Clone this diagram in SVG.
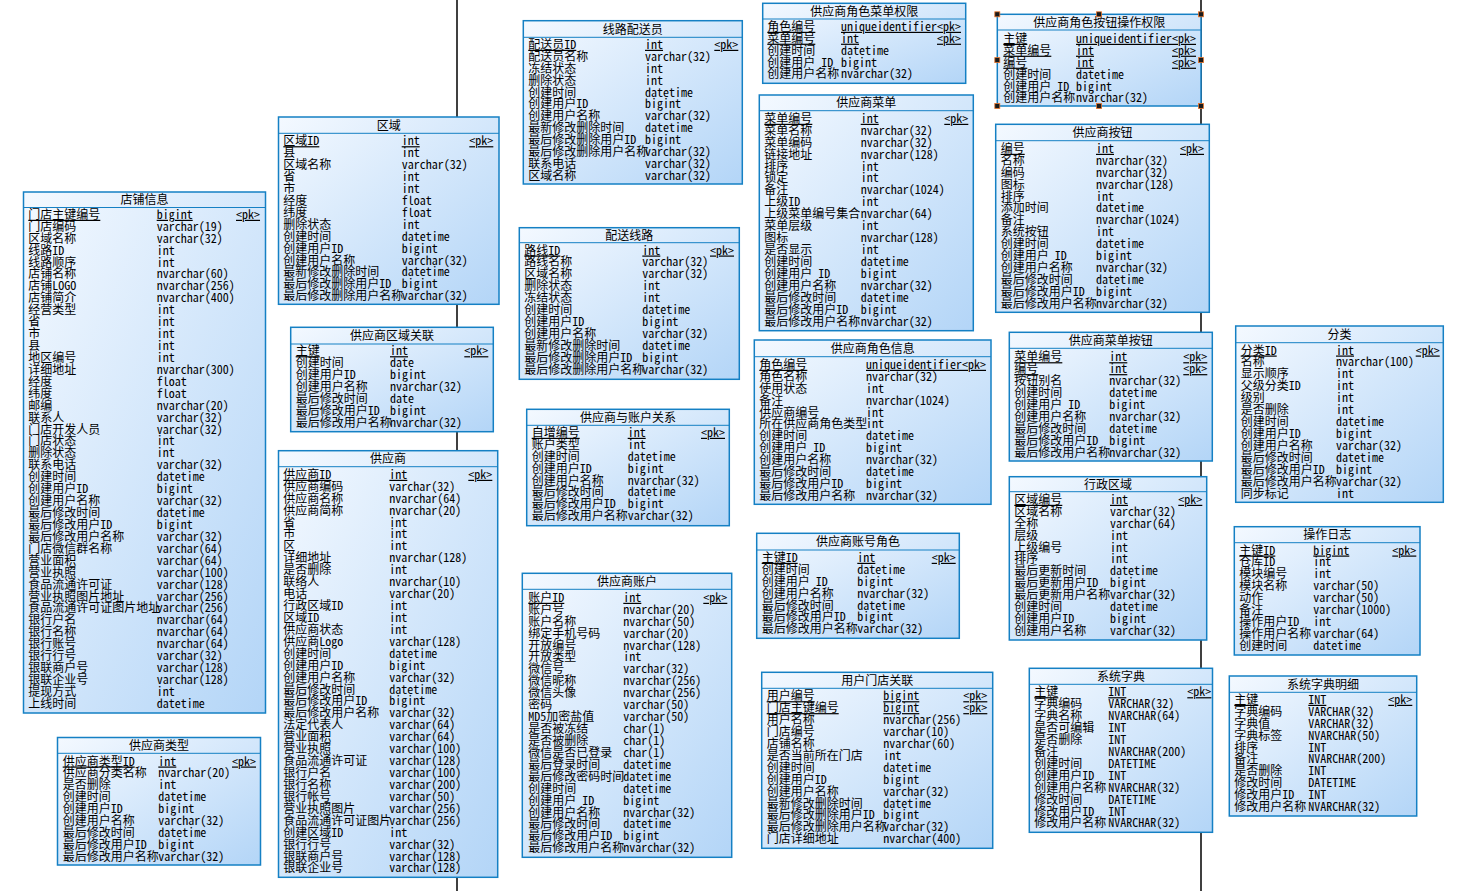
<svg xmlns="http://www.w3.org/2000/svg" width="1478" height="891" viewBox="0 0 1478 891">
<defs>
<linearGradient id="g" x1="0" y1="0" x2="1" y2="1">
<stop offset="0" stop-color="#f4f9ff"/>
<stop offset="1" stop-color="#b3d5f7"/>
</linearGradient>
<style>
.box{fill:url(#g);stroke:#1580c4;stroke-width:1.5}
.sep{stroke:#1580c4;stroke-width:1}
.ln{stroke:#000;stroke-width:1.5}
.h{fill:#1a1a1a;stroke:#e8742a;stroke-width:0.8}
text{font-family:"Noto Sans Mono CJK SC","Noto Sans CJK SC",sans-serif;font-size:12px;fill:#000}
.ttl{text-anchor:middle}
.u{text-decoration:underline}
</style>
</defs>
<rect width="1478" height="891" fill="#fff"/>
<g id="connectors">
<line class="ln" x1="457" y1="0" x2="457" y2="891"/>
<line class="ln" x1="1201" y1="0" x2="1201" y2="891"/>
</g>

<g id="t1">
<rect class="box" x="23.5" y="192" width="242" height="521"/>
<line class="sep" x1="23.5" y1="207.5" x2="265.5" y2="207.5"/>
<text class="ttl" x="144.5" y="204.3">店铺信息</text>
<text class="u" x="28.3" y="218.8">门店主键编号</text><text class="u" x="156.7" y="218.8">bigint</text><text class="u" x="236" y="218.8">&lt;pk&gt;</text>
<text x="28.3" y="218.8"><tspan x="28.3" dy="11.93">门店编码</tspan><tspan x="28.3" dy="11.93">区域名称</tspan><tspan x="28.3" dy="11.93">线路ID</tspan><tspan x="28.3" dy="11.93">线路顺序</tspan><tspan x="28.3" dy="11.93">店铺名称</tspan><tspan x="28.3" dy="11.93">店铺LOGO</tspan><tspan x="28.3" dy="11.93">店铺简介</tspan><tspan x="28.3" dy="11.93">经营类型</tspan><tspan x="28.3" dy="11.93">省</tspan><tspan x="28.3" dy="11.93">市</tspan><tspan x="28.3" dy="11.93">县</tspan><tspan x="28.3" dy="11.93">地区编号</tspan><tspan x="28.3" dy="11.93">详细地址</tspan><tspan x="28.3" dy="11.93">经度</tspan><tspan x="28.3" dy="11.93">纬度</tspan><tspan x="28.3" dy="11.93">邮编</tspan><tspan x="28.3" dy="11.93">联系人</tspan><tspan x="28.3" dy="11.93">门店开发人员</tspan><tspan x="28.3" dy="11.93">门店状态</tspan><tspan x="28.3" dy="11.93">删除状态</tspan><tspan x="28.3" dy="11.93">联系电话</tspan><tspan x="28.3" dy="11.93">创建时间</tspan><tspan x="28.3" dy="11.93">创建用户ID</tspan><tspan x="28.3" dy="11.93">创建用户名称</tspan><tspan x="28.3" dy="11.93">最后修改时间</tspan><tspan x="28.3" dy="11.93">最后修改用户ID</tspan><tspan x="28.3" dy="11.93">最后修改用户名称</tspan><tspan x="28.3" dy="11.93">门店微信群名称</tspan><tspan x="28.3" dy="11.93">营业面积</tspan><tspan x="28.3" dy="11.93">营业执照</tspan><tspan x="28.3" dy="11.93">食品流通许可证</tspan><tspan x="28.3" dy="11.93">营业执照图片地址</tspan><tspan x="28.3" dy="11.93">食品流通许可证图片地址</tspan><tspan x="28.3" dy="11.93">银行户名</tspan><tspan x="28.3" dy="11.93">银行名称</tspan><tspan x="28.3" dy="11.93">银行账号</tspan><tspan x="28.3" dy="11.93">银行行号</tspan><tspan x="28.3" dy="11.93">银联商户号</tspan><tspan x="28.3" dy="11.93">银联企业号</tspan><tspan x="28.3" dy="11.93">提现方式</tspan><tspan x="28.3" dy="11.93">上线时间</tspan></text>
<text x="156.7" y="218.8"><tspan x="156.7" dy="11.93">varchar(19)</tspan><tspan x="156.7" dy="11.93">varchar(32)</tspan><tspan x="156.7" dy="11.93">int</tspan><tspan x="156.7" dy="11.93">int</tspan><tspan x="156.7" dy="11.93">nvarchar(60)</tspan><tspan x="156.7" dy="11.93">nvarchar(256)</tspan><tspan x="156.7" dy="11.93">nvarchar(400)</tspan><tspan x="156.7" dy="11.93">int</tspan><tspan x="156.7" dy="11.93">int</tspan><tspan x="156.7" dy="11.93">int</tspan><tspan x="156.7" dy="11.93">int</tspan><tspan x="156.7" dy="11.93">int</tspan><tspan x="156.7" dy="11.93">nvarchar(300)</tspan><tspan x="156.7" dy="11.93">float</tspan><tspan x="156.7" dy="11.93">float</tspan><tspan x="156.7" dy="11.93">nvarchar(20)</tspan><tspan x="156.7" dy="11.93">varchar(32)</tspan><tspan x="156.7" dy="11.93">varchar(32)</tspan><tspan x="156.7" dy="11.93">int</tspan><tspan x="156.7" dy="11.93">int</tspan><tspan x="156.7" dy="11.93">varchar(32)</tspan><tspan x="156.7" dy="11.93">datetime</tspan><tspan x="156.7" dy="11.93">bigint</tspan><tspan x="156.7" dy="11.93">varchar(32)</tspan><tspan x="156.7" dy="11.93">datetime</tspan><tspan x="156.7" dy="11.93">bigint</tspan><tspan x="156.7" dy="11.93">varchar(32)</tspan><tspan x="156.7" dy="11.93">varchar(64)</tspan><tspan x="156.7" dy="11.93">varchar(64)</tspan><tspan x="156.7" dy="11.93">varchar(100)</tspan><tspan x="156.7" dy="11.93">varchar(128)</tspan><tspan x="156.7" dy="11.93">varchar(256)</tspan><tspan x="156.7" dy="11.93">varchar(256)</tspan><tspan x="156.7" dy="11.93">nvarchar(64)</tspan><tspan x="156.7" dy="11.93">nvarchar(64)</tspan><tspan x="156.7" dy="11.93">nvarchar(64)</tspan><tspan x="156.7" dy="11.93">varchar(32)</tspan><tspan x="156.7" dy="11.93">varchar(128)</tspan><tspan x="156.7" dy="11.93">varchar(128)</tspan><tspan x="156.7" dy="11.93">int</tspan><tspan x="156.7" dy="11.93">datetime</tspan></text>
</g>

<g id="t2">
<rect class="box" x="57.5" y="737.5" width="203" height="127.5"/>
<line class="sep" x1="57.5" y1="753.3" x2="260.5" y2="753.3"/>
<text class="ttl" x="159" y="749.9">供应商类型</text>
<text class="u" x="62.7" y="765.5">供应商类型ID</text><text class="u" x="158.3" y="765.5">int</text><text class="u" x="232" y="765.5">&lt;pk&gt;</text>
<text x="62.7" y="765.5"><tspan x="62.7" dy="11.93">供应商分类名称</tspan><tspan x="62.7" dy="11.93">是否删除</tspan><tspan x="62.7" dy="11.93">创建时间</tspan><tspan x="62.7" dy="11.93">创建用户ID</tspan><tspan x="62.7" dy="11.93">创建用户名称</tspan><tspan x="62.7" dy="11.93">最后修改时间</tspan><tspan x="62.7" dy="11.93">最后修改用户ID</tspan><tspan x="62.7" dy="11.93">最后修改用户名称</tspan></text>
<text x="158.3" y="765.5"><tspan x="158.3" dy="11.93">nvarchar(20)</tspan><tspan x="158.3" dy="11.93">int</tspan><tspan x="158.3" dy="11.93">datetime</tspan><tspan x="158.3" dy="11.93">bigint</tspan><tspan x="158.3" dy="11.93">varchar(32)</tspan><tspan x="158.3" dy="11.93">datetime</tspan><tspan x="158.3" dy="11.93">bigint</tspan><tspan x="158.3" dy="11.93">varchar(32)</tspan></text>
</g>

<g id="t3">
<rect class="box" x="278.5" y="117" width="220.5" height="187.3"/>
<line class="sep" x1="278.5" y1="133.3" x2="499" y2="133.3"/>
<text class="ttl" x="388.7" y="129.7">区域</text>
<text class="u" x="283.3" y="145.2">区域ID</text><text class="u" x="401.7" y="145.2">int</text><text class="u" x="469.3" y="145.2">&lt;pk&gt;</text>
<text x="283.3" y="145.2"><tspan x="283.3" dy="11.93">县</tspan><tspan x="283.3" dy="11.93">区域名称</tspan><tspan x="283.3" dy="11.93">省</tspan><tspan x="283.3" dy="11.93">市</tspan><tspan x="283.3" dy="11.93">经度</tspan><tspan x="283.3" dy="11.93">纬度</tspan><tspan x="283.3" dy="11.93">删除状态</tspan><tspan x="283.3" dy="11.93">创建时间</tspan><tspan x="283.3" dy="11.93">创建用户ID</tspan><tspan x="283.3" dy="11.93">创建用户名称</tspan><tspan x="283.3" dy="11.93">最新修改删除时间</tspan><tspan x="283.3" dy="11.93">最后修改删除用户ID</tspan><tspan x="283.3" dy="11.93">最后修改删除用户名称</tspan></text>
<text x="401.7" y="145.2"><tspan x="401.7" dy="11.93">int</tspan><tspan x="401.7" dy="11.93">varchar(32)</tspan><tspan x="401.7" dy="11.93">int</tspan><tspan x="401.7" dy="11.93">int</tspan><tspan x="401.7" dy="11.93">float</tspan><tspan x="401.7" dy="11.93">float</tspan><tspan x="401.7" dy="11.93">int</tspan><tspan x="401.7" dy="11.93">datetime</tspan><tspan x="401.7" dy="11.93">bigint</tspan><tspan x="401.7" dy="11.93">varchar(32)</tspan><tspan x="401.7" dy="11.93">datetime</tspan><tspan x="401.7" dy="11.93">bigint</tspan><tspan x="401.7" dy="11.93">varchar(32)</tspan></text>
</g>

<g id="t4">
<rect class="box" x="290.7" y="327.3" width="202.6" height="104.4"/>
<line class="sep" x1="290.7" y1="344" x2="493.3" y2="344"/>
<text class="ttl" x="392" y="340.2">供应商区域关联</text>
<text class="u" x="295.7" y="355.2">主键</text><text class="u" x="390" y="355.2">int</text><text class="u" x="464.3" y="355.2">&lt;pk&gt;</text>
<text x="295.7" y="355.2"><tspan x="295.7" dy="11.93">创建时间</tspan><tspan x="295.7" dy="11.93">创建用户ID</tspan><tspan x="295.7" dy="11.93">创建用户名称</tspan><tspan x="295.7" dy="11.93">最后修改时间</tspan><tspan x="295.7" dy="11.93">最后修改用户ID</tspan><tspan x="295.7" dy="11.93">最后修改用户名称</tspan></text>
<text x="390" y="355.2"><tspan x="390" dy="11.93">date</tspan><tspan x="390" dy="11.93">bigint</tspan><tspan x="390" dy="11.93">nvarchar(32)</tspan><tspan x="390" dy="11.93">date</tspan><tspan x="390" dy="11.93">bigint</tspan><tspan x="390" dy="11.93">nvarchar(32)</tspan></text>
</g>

<g id="t5">
<rect class="box" x="278.5" y="450.7" width="219.2" height="426.6"/>
<line class="sep" x1="278.5" y1="466.7" x2="497.7" y2="466.7"/>
<text class="ttl" x="388.1" y="463.2">供应商</text>
<text class="u" x="283.3" y="478.8">供应商ID</text><text class="u" x="389.3" y="478.8">int</text><text class="u" x="468.3" y="478.8">&lt;pk&gt;</text>
<text x="283.3" y="478.8"><tspan x="283.3" dy="11.93">供应商编码</tspan><tspan x="283.3" dy="11.93">供应商名称</tspan><tspan x="283.3" dy="11.93">供应商简称</tspan><tspan x="283.3" dy="11.93">省</tspan><tspan x="283.3" dy="11.93">市</tspan><tspan x="283.3" dy="11.93">区</tspan><tspan x="283.3" dy="11.93">详细地址</tspan><tspan x="283.3" dy="11.93">是否删除</tspan><tspan x="283.3" dy="11.93">联络人</tspan><tspan x="283.3" dy="11.93">电话</tspan><tspan x="283.3" dy="11.93">行政区域ID</tspan><tspan x="283.3" dy="11.93">区域ID</tspan><tspan x="283.3" dy="11.93">供应商状态</tspan><tspan x="283.3" dy="11.93">供应商Logo</tspan><tspan x="283.3" dy="11.93">创建时间</tspan><tspan x="283.3" dy="11.93">创建用户ID</tspan><tspan x="283.3" dy="11.93">创建用户名称</tspan><tspan x="283.3" dy="11.93">最后修改时间</tspan><tspan x="283.3" dy="11.93">最后修改用户ID</tspan><tspan x="283.3" dy="11.93">最后修改用户名称</tspan><tspan x="283.3" dy="11.93">法定代表人</tspan><tspan x="283.3" dy="11.93">营业面积</tspan><tspan x="283.3" dy="11.93">营业执照</tspan><tspan x="283.3" dy="11.93">食品流通许可证</tspan><tspan x="283.3" dy="11.93">银行户名</tspan><tspan x="283.3" dy="11.93">银行名称</tspan><tspan x="283.3" dy="11.93">银行帐号</tspan><tspan x="283.3" dy="11.93">营业执照图片</tspan><tspan x="283.3" dy="11.93">食品流通许可证图片</tspan><tspan x="283.3" dy="11.93">创建区域ID</tspan><tspan x="283.3" dy="11.93">银行行号</tspan><tspan x="283.3" dy="11.93">银联商户号</tspan><tspan x="283.3" dy="11.93">银联企业号</tspan></text>
<text x="389.3" y="478.8"><tspan x="389.3" dy="11.93">varchar(32)</tspan><tspan x="389.3" dy="11.93">nvarchar(64)</tspan><tspan x="389.3" dy="11.93">nvarchar(20)</tspan><tspan x="389.3" dy="11.93">int</tspan><tspan x="389.3" dy="11.93">int</tspan><tspan x="389.3" dy="11.93">int</tspan><tspan x="389.3" dy="11.93">nvarchar(128)</tspan><tspan x="389.3" dy="11.93">int</tspan><tspan x="389.3" dy="11.93">nvarchar(10)</tspan><tspan x="389.3" dy="11.93">varchar(20)</tspan><tspan x="389.3" dy="11.93">int</tspan><tspan x="389.3" dy="11.93">int</tspan><tspan x="389.3" dy="11.93">int</tspan><tspan x="389.3" dy="11.93">varchar(128)</tspan><tspan x="389.3" dy="11.93">datetime</tspan><tspan x="389.3" dy="11.93">bigint</tspan><tspan x="389.3" dy="11.93">varchar(32)</tspan><tspan x="389.3" dy="11.93">datetime</tspan><tspan x="389.3" dy="11.93">bigint</tspan><tspan x="389.3" dy="11.93">varchar(32)</tspan><tspan x="389.3" dy="11.93">varchar(64)</tspan><tspan x="389.3" dy="11.93">varchar(64)</tspan><tspan x="389.3" dy="11.93">varchar(100)</tspan><tspan x="389.3" dy="11.93">varchar(128)</tspan><tspan x="389.3" dy="11.93">varchar(100)</tspan><tspan x="389.3" dy="11.93">varchar(200)</tspan><tspan x="389.3" dy="11.93">varchar(50)</tspan><tspan x="389.3" dy="11.93">varchar(256)</tspan><tspan x="389.3" dy="11.93">varchar(256)</tspan><tspan x="389.3" dy="11.93">int</tspan><tspan x="389.3" dy="11.93">varchar(32)</tspan><tspan x="389.3" dy="11.93">varchar(128)</tspan><tspan x="389.3" dy="11.93">varchar(128)</tspan></text>
</g>

<g id="t6">
<rect class="box" x="523.3" y="20.7" width="219" height="163.3"/>
<line class="sep" x1="523.3" y1="37.3" x2="742.3" y2="37.3"/>
<text class="ttl" x="632.8" y="33.5">线路配送员</text>
<text class="u" x="528.3" y="48.8">配送员ID</text><text class="u" x="645" y="48.8">int</text><text class="u" x="714.3" y="48.8">&lt;pk&gt;</text>
<text x="528.3" y="48.8"><tspan x="528.3" dy="11.93">配送员名称</tspan><tspan x="528.3" dy="11.93">冻结状态</tspan><tspan x="528.3" dy="11.93">删除状态</tspan><tspan x="528.3" dy="11.93">创建时间</tspan><tspan x="528.3" dy="11.93">创建用户ID</tspan><tspan x="528.3" dy="11.93">创建用户名称</tspan><tspan x="528.3" dy="11.93">最新修改删除时间</tspan><tspan x="528.3" dy="11.93">最后修改删除用户ID</tspan><tspan x="528.3" dy="11.93">最后修改删除用户名称</tspan><tspan x="528.3" dy="11.93">联系电话</tspan><tspan x="528.3" dy="11.93">区域名称</tspan></text>
<text x="645" y="48.8"><tspan x="645" dy="11.93">varchar(32)</tspan><tspan x="645" dy="11.93">int</tspan><tspan x="645" dy="11.93">int</tspan><tspan x="645" dy="11.93">datetime</tspan><tspan x="645" dy="11.93">bigint</tspan><tspan x="645" dy="11.93">varchar(32)</tspan><tspan x="645" dy="11.93">datetime</tspan><tspan x="645" dy="11.93">bigint</tspan><tspan x="645" dy="11.93">varchar(32)</tspan><tspan x="645" dy="11.93">varchar(32)</tspan><tspan x="645" dy="11.93">varchar(32)</tspan></text>
</g>

<g id="t7">
<rect class="box" x="519.3" y="227.7" width="220" height="151.6"/>
<line class="sep" x1="519.3" y1="242.7" x2="739.3" y2="242.7"/>
<text class="ttl" x="629.3" y="239.7">配送线路</text>
<text class="u" x="524.3" y="254.5">路线ID</text><text class="u" x="642.3" y="254.5">int</text><text class="u" x="710" y="254.5">&lt;pk&gt;</text>
<text x="524.3" y="254.5"><tspan x="524.3" dy="11.93">路线名称</tspan><tspan x="524.3" dy="11.93">区域名称</tspan><tspan x="524.3" dy="11.93">删除状态</tspan><tspan x="524.3" dy="11.93">冻结状态</tspan><tspan x="524.3" dy="11.93">创建时间</tspan><tspan x="524.3" dy="11.93">创建用户ID</tspan><tspan x="524.3" dy="11.93">创建用户名称</tspan><tspan x="524.3" dy="11.93">最新修改删除时间</tspan><tspan x="524.3" dy="11.93">最后修改删除用户ID</tspan><tspan x="524.3" dy="11.93">最后修改删除用户名称</tspan></text>
<text x="642.3" y="254.5"><tspan x="642.3" dy="11.93">varchar(32)</tspan><tspan x="642.3" dy="11.93">varchar(32)</tspan><tspan x="642.3" dy="11.93">int</tspan><tspan x="642.3" dy="11.93">int</tspan><tspan x="642.3" dy="11.93">datetime</tspan><tspan x="642.3" dy="11.93">bigint</tspan><tspan x="642.3" dy="11.93">varchar(32)</tspan><tspan x="642.3" dy="11.93">datetime</tspan><tspan x="642.3" dy="11.93">bigint</tspan><tspan x="642.3" dy="11.93">varchar(32)</tspan></text>
</g>

<g id="t8">
<rect class="box" x="526.7" y="409.3" width="202.6" height="116.4"/>
<line class="sep" x1="526.7" y1="425.3" x2="729.3" y2="425.3"/>
<text class="ttl" x="628" y="421.8">供应商与账户关系</text>
<text class="u" x="531.7" y="436.8">自增编号</text><text class="u" x="627.7" y="436.8">int</text><text class="u" x="701" y="436.8">&lt;pk&gt;</text>
<text x="531.7" y="436.8"><tspan x="531.7" dy="11.93">账户类型</tspan><tspan x="531.7" dy="11.93">创建时间</tspan><tspan x="531.7" dy="11.93">创建用户ID</tspan><tspan x="531.7" dy="11.93">创建用户名称</tspan><tspan x="531.7" dy="11.93">最后修改时间</tspan><tspan x="531.7" dy="11.93">最后修改用户ID</tspan><tspan x="531.7" dy="11.93">最后修改用户名称</tspan></text>
<text x="627.7" y="436.8"><tspan x="627.7" dy="11.93">int</tspan><tspan x="627.7" dy="11.93">datetime</tspan><tspan x="627.7" dy="11.93">bigint</tspan><tspan x="627.7" dy="11.93">nvarchar(32)</tspan><tspan x="627.7" dy="11.93">datetime</tspan><tspan x="627.7" dy="11.93">bigint</tspan><tspan x="627.7" dy="11.93">varchar(32)</tspan></text>
</g>

<g id="t9">
<rect class="box" x="522.3" y="573.3" width="209.4" height="284"/>
<line class="sep" x1="522.3" y1="589.3" x2="731.7" y2="589.3"/>
<text class="ttl" x="627" y="585.8">供应商账户</text>
<text class="u" x="528.3" y="601.8">账户ID</text><text class="u" x="623.3" y="601.8">int</text><text class="u" x="703.3" y="601.8">&lt;pk&gt;</text>
<text x="528.3" y="601.8"><tspan x="528.3" dy="11.93">账户号</tspan><tspan x="528.3" dy="11.93">账户名称</tspan><tspan x="528.3" dy="11.93">绑定手机号码</tspan><tspan x="528.3" dy="11.93">开放编号</tspan><tspan x="528.3" dy="11.93">开放类型</tspan><tspan x="528.3" dy="11.93">微信号</tspan><tspan x="528.3" dy="11.93">微信昵称</tspan><tspan x="528.3" dy="11.93">微信头像</tspan><tspan x="528.3" dy="11.93">密码</tspan><tspan x="528.3" dy="11.93">MD5加密盐值</tspan><tspan x="528.3" dy="11.93">是否被冻结</tspan><tspan x="528.3" dy="11.93">是否被删除</tspan><tspan x="528.3" dy="11.93">微信是否已登录</tspan><tspan x="528.3" dy="11.93">最后登录时间</tspan><tspan x="528.3" dy="11.93">最后修改密码时间</tspan><tspan x="528.3" dy="11.93">创建时间</tspan><tspan x="528.3" dy="11.93">创建用户 ID</tspan><tspan x="528.3" dy="11.93">创建用户名称</tspan><tspan x="528.3" dy="11.93">最后修改时间</tspan><tspan x="528.3" dy="11.93">最后修改用户ID</tspan><tspan x="528.3" dy="11.93">最后修改用户名称</tspan></text>
<text x="623.3" y="601.8"><tspan x="623.3" dy="11.93">nvarchar(20)</tspan><tspan x="623.3" dy="11.93">nvarchar(50)</tspan><tspan x="623.3" dy="11.93">varchar(20)</tspan><tspan x="623.3" dy="11.93">nvarchar(128)</tspan><tspan x="623.3" dy="11.93">int</tspan><tspan x="623.3" dy="11.93">varchar(32)</tspan><tspan x="623.3" dy="11.93">nvarchar(256)</tspan><tspan x="623.3" dy="11.93">nvarchar(256)</tspan><tspan x="623.3" dy="11.93">varchar(50)</tspan><tspan x="623.3" dy="11.93">varchar(50)</tspan><tspan x="623.3" dy="11.93">char(1)</tspan><tspan x="623.3" dy="11.93">char(1)</tspan><tspan x="623.3" dy="11.93">char(1)</tspan><tspan x="623.3" dy="11.93">datetime</tspan><tspan x="623.3" dy="11.93">datetime</tspan><tspan x="623.3" dy="11.93">datetime</tspan><tspan x="623.3" dy="11.93">bigint</tspan><tspan x="623.3" dy="11.93">nvarchar(32)</tspan><tspan x="623.3" dy="11.93">datetime</tspan><tspan x="623.3" dy="11.93">bigint</tspan><tspan x="623.3" dy="11.93">nvarchar(32)</tspan></text>
</g>

<g id="t10">
<rect class="box" x="762.7" y="3.3" width="203" height="80"/>
<line class="sep" x1="762.7" y1="19" x2="965.7" y2="19"/>
<text class="ttl" x="864.2" y="15.7">供应商角色菜单权限</text>
<text class="u" x="767.3" y="30.8">角色编号</text><text class="u" x="841" y="30.8">uniqueidentifier</text><text class="u" x="937" y="30.8">&lt;pk&gt;</text>
<text class="u" x="767.3" y="42.7">菜单编号</text><text class="u" x="841" y="42.7">int</text><text class="u" x="937" y="42.7">&lt;pk&gt;</text>
<text x="767.3" y="42.7"><tspan x="767.3" dy="11.93">创建时间</tspan><tspan x="767.3" dy="11.93">创建用户 ID</tspan><tspan x="767.3" dy="11.93">创建用户名称</tspan></text>
<text x="841" y="42.7"><tspan x="841" dy="11.93">datetime</tspan><tspan x="841" dy="11.93">bigint</tspan><tspan x="841" dy="11.93">nvarchar(32)</tspan></text>
</g>

<g id="t11">
<rect class="box" x="759.3" y="95" width="214" height="235.7"/>
<line class="sep" x1="759.3" y1="110.7" x2="973.3" y2="110.7"/>
<text class="ttl" x="866.3" y="107.4">供应商菜单</text>
<text class="u" x="764.3" y="122.8">菜单编号</text><text class="u" x="860.7" y="122.8">int</text><text class="u" x="944.3" y="122.8">&lt;pk&gt;</text>
<text x="764.3" y="122.8"><tspan x="764.3" dy="11.93">菜单名称</tspan><tspan x="764.3" dy="11.93">菜单编码</tspan><tspan x="764.3" dy="11.93">链接地址</tspan><tspan x="764.3" dy="11.93">排序</tspan><tspan x="764.3" dy="11.93">锁定</tspan><tspan x="764.3" dy="11.93">备注</tspan><tspan x="764.3" dy="11.93">上级ID</tspan><tspan x="764.3" dy="11.93">上级菜单编号集合</tspan><tspan x="764.3" dy="11.93">菜单层级</tspan><tspan x="764.3" dy="11.93">图标</tspan><tspan x="764.3" dy="11.93">是否显示</tspan><tspan x="764.3" dy="11.93">创建时间</tspan><tspan x="764.3" dy="11.93">创建用户 ID</tspan><tspan x="764.3" dy="11.93">创建用户名称</tspan><tspan x="764.3" dy="11.93">最后修改时间</tspan><tspan x="764.3" dy="11.93">最后修改用户ID</tspan><tspan x="764.3" dy="11.93">最后修改用户名称</tspan></text>
<text x="860.7" y="122.8"><tspan x="860.7" dy="11.93">nvarchar(32)</tspan><tspan x="860.7" dy="11.93">nvarchar(32)</tspan><tspan x="860.7" dy="11.93">nvarchar(128)</tspan><tspan x="860.7" dy="11.93">int</tspan><tspan x="860.7" dy="11.93">int</tspan><tspan x="860.7" dy="11.93">nvarchar(1024)</tspan><tspan x="860.7" dy="11.93">int</tspan><tspan x="860.7" dy="11.93">nvarchar(64)</tspan><tspan x="860.7" dy="11.93">int</tspan><tspan x="860.7" dy="11.93">nvarchar(128)</tspan><tspan x="860.7" dy="11.93">int</tspan><tspan x="860.7" dy="11.93">datetime</tspan><tspan x="860.7" dy="11.93">bigint</tspan><tspan x="860.7" dy="11.93">nvarchar(32)</tspan><tspan x="860.7" dy="11.93">datetime</tspan><tspan x="860.7" dy="11.93">bigint</tspan><tspan x="860.7" dy="11.93">nvarchar(32)</tspan></text>
</g>

<g id="t12">
<rect class="box" x="754.3" y="340" width="236.7" height="164.3"/>
<line class="sep" x1="754.3" y1="356.7" x2="991" y2="356.7"/>
<text class="ttl" x="872.7" y="352.9">供应商角色信息</text>
<text class="u" x="759.3" y="368.8">角色编号</text><text class="u" x="866" y="368.8">uniqueidentifier</text><text class="u" x="962" y="368.8">&lt;pk&gt;</text>
<text x="759.3" y="368.8"><tspan x="759.3" dy="11.93">角色名称</tspan><tspan x="759.3" dy="11.93">使用状态</tspan><tspan x="759.3" dy="11.93">备注</tspan><tspan x="759.3" dy="11.93">供应商编号</tspan><tspan x="759.3" dy="11.93">所在供应商角色类型</tspan><tspan x="759.3" dy="11.93">创建时间</tspan><tspan x="759.3" dy="11.93">创建用户 ID</tspan><tspan x="759.3" dy="11.93">创建用户名称</tspan><tspan x="759.3" dy="11.93">最后修改时间</tspan><tspan x="759.3" dy="11.93">最后修改用户ID</tspan><tspan x="759.3" dy="11.93">最后修改用户名称</tspan></text>
<text x="866" y="368.8"><tspan x="866" dy="11.93">nvarchar(32)</tspan><tspan x="866" dy="11.93">int</tspan><tspan x="866" dy="11.93">nvarchar(1024)</tspan><tspan x="866" dy="11.93">int</tspan><tspan x="866" dy="11.93">int</tspan><tspan x="866" dy="11.93">datetime</tspan><tspan x="866" dy="11.93">bigint</tspan><tspan x="866" dy="11.93">nvarchar(32)</tspan><tspan x="866" dy="11.93">datetime</tspan><tspan x="866" dy="11.93">bigint</tspan><tspan x="866" dy="11.93">nvarchar(32)</tspan></text>
</g>

<g id="t13">
<rect class="box" x="756.7" y="533.3" width="202.6" height="105"/>
<line class="sep" x1="756.7" y1="550" x2="959.3" y2="550"/>
<text class="ttl" x="858" y="546.2">供应商账号角色</text>
<text class="u" x="761.7" y="561.8">主键ID</text><text class="u" x="857.3" y="561.8">int</text><text class="u" x="931.7" y="561.8">&lt;pk&gt;</text>
<text x="761.7" y="561.8"><tspan x="761.7" dy="11.93">创建时间</tspan><tspan x="761.7" dy="11.93">创建用户 ID</tspan><tspan x="761.7" dy="11.93">创建用户名称</tspan><tspan x="761.7" dy="11.93">最后修改时间</tspan><tspan x="761.7" dy="11.93">最后修改用户ID</tspan><tspan x="761.7" dy="11.93">最后修改用户名称</tspan></text>
<text x="857.3" y="561.8"><tspan x="857.3" dy="11.93">datetime</tspan><tspan x="857.3" dy="11.93">bigint</tspan><tspan x="857.3" dy="11.93">nvarchar(32)</tspan><tspan x="857.3" dy="11.93">datetime</tspan><tspan x="857.3" dy="11.93">bigint</tspan><tspan x="857.3" dy="11.93">varchar(32)</tspan></text>
</g>

<g id="t14">
<rect class="box" x="761.7" y="672.3" width="231" height="176"/>
<line class="sep" x1="761.7" y1="688.3" x2="992.7" y2="688.3"/>
<text class="ttl" x="877.2" y="684.8">用户门店关联</text>
<text class="u" x="766.7" y="700.2">用户编号</text><text class="u" x="883.3" y="700.2">bigint</text><text class="u" x="963.3" y="700.2">&lt;pk&gt;</text>
<text class="u" x="766.7" y="712.1">门店主键编号</text><text class="u" x="883.3" y="712.1">bigint</text><text class="u" x="963.3" y="712.1">&lt;pk&gt;</text>
<text x="766.7" y="712.1"><tspan x="766.7" dy="11.93">用户名称</tspan><tspan x="766.7" dy="11.93">门店编号</tspan><tspan x="766.7" dy="11.93">店铺名称</tspan><tspan x="766.7" dy="11.93">是否当前所在门店</tspan><tspan x="766.7" dy="11.93">创建时间</tspan><tspan x="766.7" dy="11.93">创建用户ID</tspan><tspan x="766.7" dy="11.93">创建用户名称</tspan><tspan x="766.7" dy="11.93">最新修改删除时间</tspan><tspan x="766.7" dy="11.93">最后修改删除用户ID</tspan><tspan x="766.7" dy="11.93">最后修改删除用户名称</tspan><tspan x="766.7" dy="11.93">门店详细地址</tspan></text>
<text x="883.3" y="712.1"><tspan x="883.3" dy="11.93">nvarchar(256)</tspan><tspan x="883.3" dy="11.93">varchar(10)</tspan><tspan x="883.3" dy="11.93">nvarchar(60)</tspan><tspan x="883.3" dy="11.93">int</tspan><tspan x="883.3" dy="11.93">datetime</tspan><tspan x="883.3" dy="11.93">bigint</tspan><tspan x="883.3" dy="11.93">varchar(32)</tspan><tspan x="883.3" dy="11.93">datetime</tspan><tspan x="883.3" dy="11.93">bigint</tspan><tspan x="883.3" dy="11.93">varchar(32)</tspan><tspan x="883.3" dy="11.93">nvarchar(400)</tspan></text>
</g>

<g id="t15">
<rect class="box" x="997.3" y="14.3" width="203.7" height="91.7"/>
<line class="sep" x1="997.3" y1="30" x2="1201" y2="30"/>
<text class="ttl" x="1099.2" y="26.7">供应商角色按钮操作权限</text>
<text class="u" x="1003.3" y="42.8">主键</text><text class="u" x="1076" y="42.8">uniqueidentifier</text><text class="u" x="1172" y="42.8">&lt;pk&gt;</text>
<text class="u" x="1003.3" y="54.7">菜单编号</text><text class="u" x="1076" y="54.7">int</text><text class="u" x="1172" y="54.7">&lt;pk&gt;</text>
<text class="u" x="1003.3" y="66.7">编号</text><text class="u" x="1076" y="66.7">int</text><text class="u" x="1172" y="66.7">&lt;pk&gt;</text>
<text x="1003.3" y="66.7"><tspan x="1003.3" dy="11.93">创建时间</tspan><tspan x="1003.3" dy="11.93">创建用户 ID</tspan><tspan x="1003.3" dy="11.93">创建用户名称</tspan></text>
<text x="1076" y="66.7"><tspan x="1076" dy="11.93">datetime</tspan><tspan x="1076" dy="11.93">bigint</tspan><tspan x="1076" dy="11.93">nvarchar(32)</tspan></text>
<rect class="h" x="994.8" y="11.8" width="5" height="5"/><rect class="h" x="1096.6" y="11.8" width="5" height="5"/><rect class="h" x="1198.5" y="11.8" width="5" height="5"/>
<rect class="h" x="994.8" y="57.6" width="5" height="5"/><rect class="h" x="1198.5" y="57.6" width="5" height="5"/>
<rect class="h" x="994.8" y="103.5" width="5" height="5"/><rect class="h" x="1096.6" y="103.5" width="5" height="5"/><rect class="h" x="1198.5" y="103.5" width="5" height="5"/>
</g>

<g id="t16">
<rect class="box" x="995.7" y="124.3" width="213.6" height="188"/>
<line class="sep" x1="995.7" y1="140.7" x2="1209.3" y2="140.7"/>
<text class="ttl" x="1102.5" y="137">供应商按钮</text>
<text class="u" x="1000.7" y="152.8">编号</text><text class="u" x="1096" y="152.8">int</text><text class="u" x="1180" y="152.8">&lt;pk&gt;</text>
<text x="1000.7" y="152.8"><tspan x="1000.7" dy="11.93">名称</tspan><tspan x="1000.7" dy="11.93">编码</tspan><tspan x="1000.7" dy="11.93">图标</tspan><tspan x="1000.7" dy="11.93">排序</tspan><tspan x="1000.7" dy="11.93">添加时间</tspan><tspan x="1000.7" dy="11.93">备注</tspan><tspan x="1000.7" dy="11.93">系统按钮</tspan><tspan x="1000.7" dy="11.93">创建时间</tspan><tspan x="1000.7" dy="11.93">创建用户 ID</tspan><tspan x="1000.7" dy="11.93">创建用户名称</tspan><tspan x="1000.7" dy="11.93">最后修改时间</tspan><tspan x="1000.7" dy="11.93">最后修改用户ID</tspan><tspan x="1000.7" dy="11.93">最后修改用户名称</tspan></text>
<text x="1096" y="152.8"><tspan x="1096" dy="11.93">nvarchar(32)</tspan><tspan x="1096" dy="11.93">nvarchar(32)</tspan><tspan x="1096" dy="11.93">nvarchar(128)</tspan><tspan x="1096" dy="11.93">int</tspan><tspan x="1096" dy="11.93">datetime</tspan><tspan x="1096" dy="11.93">nvarchar(1024)</tspan><tspan x="1096" dy="11.93">int</tspan><tspan x="1096" dy="11.93">datetime</tspan><tspan x="1096" dy="11.93">bigint</tspan><tspan x="1096" dy="11.93">nvarchar(32)</tspan><tspan x="1096" dy="11.93">datetime</tspan><tspan x="1096" dy="11.93">bigint</tspan><tspan x="1096" dy="11.93">nvarchar(32)</tspan></text>
</g>

<g id="t17">
<rect class="box" x="1009.3" y="332.3" width="203" height="128.7"/>
<line class="sep" x1="1009.3" y1="348.3" x2="1212.3" y2="348.3"/>
<text class="ttl" x="1110.8" y="344.8">供应商菜单按钮</text>
<text class="u" x="1014.3" y="361.2">菜单编号</text><text class="u" x="1109.3" y="361.2">int</text><text class="u" x="1183.3" y="361.2">&lt;pk&gt;</text>
<text class="u" x="1014.3" y="373.1">编号</text><text class="u" x="1109.3" y="373.1">int</text><text class="u" x="1183.3" y="373.1">&lt;pk&gt;</text>
<text x="1014.3" y="373.1"><tspan x="1014.3" dy="11.93">按钮别名</tspan><tspan x="1014.3" dy="11.93">创建时间</tspan><tspan x="1014.3" dy="11.93">创建用户 ID</tspan><tspan x="1014.3" dy="11.93">创建用户名称</tspan><tspan x="1014.3" dy="11.93">最后修改时间</tspan><tspan x="1014.3" dy="11.93">最后修改用户ID</tspan><tspan x="1014.3" dy="11.93">最后修改用户名称</tspan></text>
<text x="1109.3" y="373.1"><tspan x="1109.3" dy="11.93">nvarchar(32)</tspan><tspan x="1109.3" dy="11.93">datetime</tspan><tspan x="1109.3" dy="11.93">bigint</tspan><tspan x="1109.3" dy="11.93">nvarchar(32)</tspan><tspan x="1109.3" dy="11.93">datetime</tspan><tspan x="1109.3" dy="11.93">bigint</tspan><tspan x="1109.3" dy="11.93">nvarchar(32)</tspan></text>
</g>

<g id="t18">
<rect class="box" x="1009.3" y="476.7" width="197.4" height="163.3"/>
<line class="sep" x1="1009.3" y1="491.7" x2="1206.7" y2="491.7"/>
<text class="ttl" x="1108" y="488.7">行政区域</text>
<text class="u" x="1014.3" y="503.8">区域编号</text><text class="u" x="1110" y="503.8">int</text><text class="u" x="1178.3" y="503.8">&lt;pk&gt;</text>
<text x="1014.3" y="503.8"><tspan x="1014.3" dy="11.93">区域名称</tspan><tspan x="1014.3" dy="11.93">全称</tspan><tspan x="1014.3" dy="11.93">层级</tspan><tspan x="1014.3" dy="11.93">上级编号</tspan><tspan x="1014.3" dy="11.93">排序</tspan><tspan x="1014.3" dy="11.93">最后更新时间</tspan><tspan x="1014.3" dy="11.93">最后更新用户ID</tspan><tspan x="1014.3" dy="11.93">最后更新用户名称</tspan><tspan x="1014.3" dy="11.93">创建时间</tspan><tspan x="1014.3" dy="11.93">创建用户ID</tspan><tspan x="1014.3" dy="11.93">创建用户名称</tspan></text>
<text x="1110" y="503.8"><tspan x="1110" dy="11.93">varchar(32)</tspan><tspan x="1110" dy="11.93">varchar(64)</tspan><tspan x="1110" dy="11.93">int</tspan><tspan x="1110" dy="11.93">int</tspan><tspan x="1110" dy="11.93">int</tspan><tspan x="1110" dy="11.93">datetime</tspan><tspan x="1110" dy="11.93">bigint</tspan><tspan x="1110" dy="11.93">varchar(32)</tspan><tspan x="1110" dy="11.93">datetime</tspan><tspan x="1110" dy="11.93">bigint</tspan><tspan x="1110" dy="11.93">varchar(32)</tspan></text>
</g>

<g id="t19">
<rect class="box" x="1029.3" y="668.3" width="183.2" height="164"/>
<line class="sep" x1="1029.3" y1="684.3" x2="1212.5" y2="684.3"/>
<text class="ttl" x="1120.9" y="680.8">系统字典</text>
<text class="u" x="1034.3" y="696.2">主键</text><text class="u" x="1108.3" y="696.2">INT</text><text class="u" x="1187.3" y="696.2">&lt;pk&gt;</text>
<text x="1034.3" y="696.2"><tspan x="1034.3" dy="11.93">字典编码</tspan><tspan x="1034.3" dy="11.93">字典名称</tspan><tspan x="1034.3" dy="11.93">是否可编辑</tspan><tspan x="1034.3" dy="11.93">是否删除</tspan><tspan x="1034.3" dy="11.93">备注</tspan><tspan x="1034.3" dy="11.93">创建时间</tspan><tspan x="1034.3" dy="11.93">创建用户ID</tspan><tspan x="1034.3" dy="11.93">创建用户名称</tspan><tspan x="1034.3" dy="11.93">修改时间</tspan><tspan x="1034.3" dy="11.93">修改用户ID</tspan><tspan x="1034.3" dy="11.93">修改用户名称</tspan></text>
<text x="1108.3" y="696.2"><tspan x="1108.3" dy="11.93">VARCHAR(32)</tspan><tspan x="1108.3" dy="11.93">NVARCHAR(64)</tspan><tspan x="1108.3" dy="11.93">INT</tspan><tspan x="1108.3" dy="11.93">INT</tspan><tspan x="1108.3" dy="11.93">NVARCHAR(200)</tspan><tspan x="1108.3" dy="11.93">DATETIME</tspan><tspan x="1108.3" dy="11.93">INT</tspan><tspan x="1108.3" dy="11.93">NVARCHAR(32)</tspan><tspan x="1108.3" dy="11.93">DATETIME</tspan><tspan x="1108.3" dy="11.93">INT</tspan><tspan x="1108.3" dy="11.93">NVARCHAR(32)</tspan></text>
</g>

<g id="t20">
<rect class="box" x="1235.7" y="326" width="207.6" height="176.3"/>
<line class="sep" x1="1235.7" y1="342.7" x2="1443.3" y2="342.7"/>
<text class="ttl" x="1339.5" y="338.9">分类</text>
<text class="u" x="1240.7" y="354.5">分类ID</text><text class="u" x="1336" y="354.5">int</text><text class="u" x="1415.7" y="354.5">&lt;pk&gt;</text>
<text x="1240.7" y="354.5"><tspan x="1240.7" dy="11.93">名称</tspan><tspan x="1240.7" dy="11.93">显示顺序</tspan><tspan x="1240.7" dy="11.93">父级分类ID</tspan><tspan x="1240.7" dy="11.93">级别</tspan><tspan x="1240.7" dy="11.93">是否删除</tspan><tspan x="1240.7" dy="11.93">创建时间</tspan><tspan x="1240.7" dy="11.93">创建用户ID</tspan><tspan x="1240.7" dy="11.93">创建用户名称</tspan><tspan x="1240.7" dy="11.93">最后修改时间</tspan><tspan x="1240.7" dy="11.93">最后修改用户ID</tspan><tspan x="1240.7" dy="11.93">最后修改用户名称</tspan><tspan x="1240.7" dy="11.93">同步标记</tspan></text>
<text x="1336" y="354.5"><tspan x="1336" dy="11.93">nvarchar(100)</tspan><tspan x="1336" dy="11.93">int</tspan><tspan x="1336" dy="11.93">int</tspan><tspan x="1336" dy="11.93">int</tspan><tspan x="1336" dy="11.93">int</tspan><tspan x="1336" dy="11.93">datetime</tspan><tspan x="1336" dy="11.93">bigint</tspan><tspan x="1336" dy="11.93">varchar(32)</tspan><tspan x="1336" dy="11.93">datetime</tspan><tspan x="1336" dy="11.93">bigint</tspan><tspan x="1336" dy="11.93">varchar(32)</tspan><tspan x="1336" dy="11.93">int</tspan></text>
</g>

<g id="t21">
<rect class="box" x="1234.3" y="526.7" width="185.7" height="128.3"/>
<line class="sep" x1="1234.3" y1="542.7" x2="1420" y2="542.7"/>
<text class="ttl" x="1327.2" y="539.2">操作日志</text>
<text class="u" x="1239.3" y="554.5">主键ID</text><text class="u" x="1313.3" y="554.5">bigint</text><text class="u" x="1392.3" y="554.5">&lt;pk&gt;</text>
<text x="1239.3" y="554.5"><tspan x="1239.3" dy="11.93">仓库ID</tspan><tspan x="1239.3" dy="11.93">模块编号</tspan><tspan x="1239.3" dy="11.93">模块名称</tspan><tspan x="1239.3" dy="11.93">动作</tspan><tspan x="1239.3" dy="11.93">备注</tspan><tspan x="1239.3" dy="11.93">操作用户ID</tspan><tspan x="1239.3" dy="11.93">操作用户名称</tspan><tspan x="1239.3" dy="11.93">创建时间</tspan></text>
<text x="1313.3" y="554.5"><tspan x="1313.3" dy="11.93">int</tspan><tspan x="1313.3" dy="11.93">int</tspan><tspan x="1313.3" dy="11.93">varchar(50)</tspan><tspan x="1313.3" dy="11.93">varchar(50)</tspan><tspan x="1313.3" dy="11.93">varchar(1000)</tspan><tspan x="1313.3" dy="11.93">int</tspan><tspan x="1313.3" dy="11.93">varchar(64)</tspan><tspan x="1313.3" dy="11.93">datetime</tspan></text>
</g>

<g id="t22">
<rect class="box" x="1229.3" y="676" width="187.4" height="140"/>
<line class="sep" x1="1229.3" y1="692.3" x2="1416.7" y2="692.3"/>
<text class="ttl" x="1323" y="688.7">系统字典明细</text>
<text class="u" x="1234.3" y="703.8">主键</text><text class="u" x="1308.3" y="703.8">INT</text><text class="u" x="1388.3" y="703.8">&lt;pk&gt;</text>
<text x="1234.3" y="703.8"><tspan x="1234.3" dy="11.93">字典编码</tspan><tspan x="1234.3" dy="11.93">字典值</tspan><tspan x="1234.3" dy="11.93">字典标签</tspan><tspan x="1234.3" dy="11.93">排序</tspan><tspan x="1234.3" dy="11.93">备注</tspan><tspan x="1234.3" dy="11.93">是否删除</tspan><tspan x="1234.3" dy="11.93">修改时间</tspan><tspan x="1234.3" dy="11.93">修改用户ID</tspan><tspan x="1234.3" dy="11.93">修改用户名称</tspan></text>
<text x="1308.3" y="703.8"><tspan x="1308.3" dy="11.93">VARCHAR(32)</tspan><tspan x="1308.3" dy="11.93">VARCHAR(32)</tspan><tspan x="1308.3" dy="11.93">NVARCHAR(50)</tspan><tspan x="1308.3" dy="11.93">INT</tspan><tspan x="1308.3" dy="11.93">NVARCHAR(200)</tspan><tspan x="1308.3" dy="11.93">INT</tspan><tspan x="1308.3" dy="11.93">DATETIME</tspan><tspan x="1308.3" dy="11.93">INT</tspan><tspan x="1308.3" dy="11.93">NVARCHAR(32)</tspan></text>
</g>
</svg>
